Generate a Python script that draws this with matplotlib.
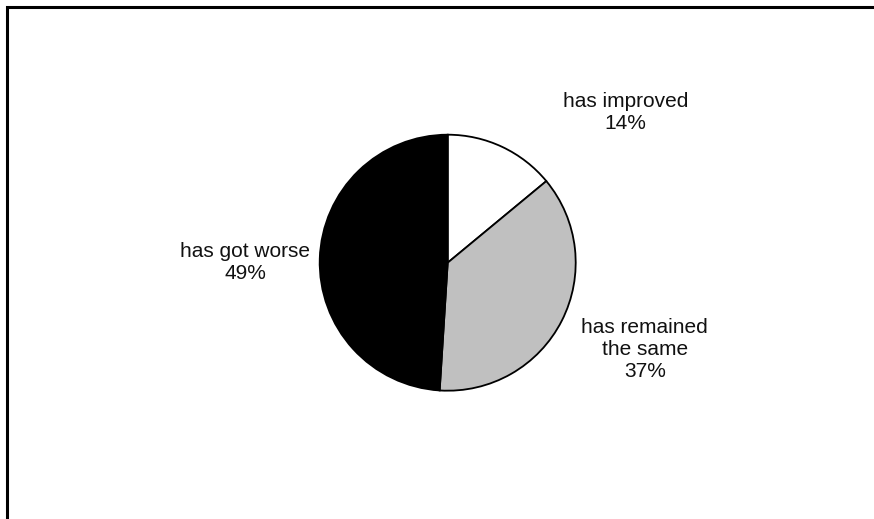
import matplotlib
matplotlib.use("Agg")
import matplotlib.pyplot as plt
from matplotlib.patches import Rectangle

# Datos del gráfico (sentido horario desde las 12)
categories = ["has improved", "has remained\nthe same", "has got worse"]
shares = [14, 37, 49]
colors = ["#FFFFFF", "#C0C0C0", "#000000"]

# posiciones de las etiquetas en coordenadas del eje (radio del pastel = 1)
label_pos = [(1.39, 1.17), (1.54, -0.68), (-1.58, 0.0)]

W, H, DPI = 874, 519, 100
plt.rcParams["font.family"] = ["Liberation Sans", "DejaVu Sans"]

fig = plt.figure(figsize=(W / DPI, H / DPI), dpi=DPI)

# marco exterior (se sale por la derecha y por abajo)
fig.patches.append(Rectangle((7 / W, -0.1), 1.2, 1 - 7 / H + 0.1,
                             transform=fig.transFigure, fill=False,
                             edgecolor="black", linewidth=2.2))

cx, cy, R = 447.7, 519 - 262.7, 128
ax = fig.add_axes([(cx - R) / W, (cy - R) / H, 2 * R / W, 2 * R / H])
ax.pie(shares, colors=colors, startangle=90, counterclock=False, radius=1,
       wedgeprops={"edgecolor": "black", "linewidth": 1.3})
ax.set_xlim(-1.0, 1.0)
ax.set_ylim(-1.0, 1.0)
ax.axis("off")

for cat, val, (x, y) in zip(categories, shares, label_pos):
    ax.text(x, y, f"{cat}\n{val}%", ha="center", va="center", fontsize=15,
            linespacing=1.2, clip_on=False, color="#111111")

fig.savefig("out.png", dpi=DPI)
